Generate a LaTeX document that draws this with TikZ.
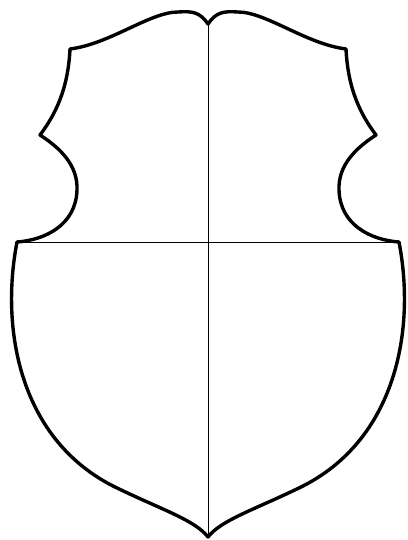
\documentclass[tikz,border=0pt]{standalone}
\begin{document}
\begin{tikzpicture}[x=1pt,y=-1pt,
  outline/.style={line width=3.4pt,line join=round},
  divider/.style={line width=1pt}]
\useasboundingbox (0,0) rectangle (407,540);
\coordinate (top) at (208,24);
\coordinate (tip) at (208,537);
\coordinate (lmid) at (17,242);
\coordinate (rmid) at (399,242);
\draw[divider] (lmid) -- (rmid);
\draw[divider] (top) -- (tip);
\draw[outline] (top)
  .. controls (200,12) and (192,11) .. (178,12)
  .. controls (150,12) and (110,44) .. (70,49)
  .. controls (68,90) and (55,115) .. (40,135)
  .. controls (60,148) and (78,165) .. (77,190)
  .. controls (76,225) and (45,240) .. (lmid)
  .. controls (0,330) and (20,440) .. (115,487)
  .. controls (160,509) and (195,520) .. (tip)
  .. controls (221,520) and (256,509) .. (301,487)
  .. controls (396,440) and (416,330) .. (rmid)
  .. controls (371,240) and (340,225) .. (339,190)
  .. controls (338,165) and (356,148) .. (376,135)
  .. controls (361,115) and (348,90) .. (346,49)
  .. controls (306,44) and (266,12) .. (238,12)
  .. controls (224,11) and (216,12) .. (top) -- cycle;
\end{tikzpicture}
\end{document}
